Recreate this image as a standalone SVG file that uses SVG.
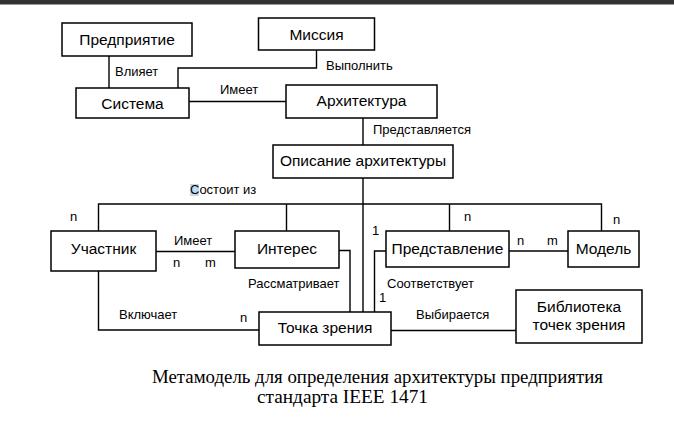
<svg xmlns="http://www.w3.org/2000/svg" width="674" height="443" viewBox="0 0 674 443">
<style>
.box{fill:#fff;stroke:#000;stroke-width:1.5}
.ln{fill:none;stroke:#000;stroke-width:1.4}
.t{font-family:"Liberation Sans",Arial,sans-serif;font-size:15.5px;fill:#000;text-anchor:middle}
.l{font-family:"Liberation Sans",Arial,sans-serif;font-size:13px;fill:#000}
.cap{font-family:"Liberation Serif","Times New Roman",serif;font-size:18px;fill:#000}
</style>
<rect x="0" y="0" width="674" height="443" fill="#fff"/>
<rect x="0" y="0" width="674" height="4.5" fill="#333"/>
<g id="connectors">
<path class="ln" d="M109,56 V88"/>
<path class="ln" d="M316.5,50 V68 H178 V88"/>
<path class="ln" d="M189,101.5 H286"/>
<path class="ln" d="M363,118 V145"/>
<path class="ln" d="M363,178 V312"/>
<path class="ln" d="M98.5,231 V204 H601.5 V231"/>
<path class="ln" d="M286.5,204 V231"/>
<path class="ln" d="M449.5,204 V231"/>
<path class="ln" d="M156,251.5 H235"/>
<path class="ln" d="M339,250.5 H350 V312"/>
<path class="ln" d="M386,251 H374.5 V312"/>
<path class="ln" d="M509,251 H568"/>
<path class="ln" d="M98.5,271 V330 H259"/>
<path class="ln" d="M391,330.5 H516"/>
</g>
<g id="n-predpriyatie"><rect class="box" x="62" y="23" width="130" height="33"/><text class="t" x="127" y="45">Предприятие</text></g>
<g id="n-missiya"><rect class="box" x="258.5" y="18" width="116" height="32"/><text class="t" x="316.5" y="40">Миссия</text></g>
<g id="n-sistema"><rect class="box" x="76" y="88" width="113" height="30"/><text class="t" x="132.5" y="109">Система</text></g>
<g id="n-arkhitektura"><rect class="box" x="286" y="85" width="151" height="33"/><text class="t" x="361.5" y="106">Архитектура</text></g>
<g id="n-opisanie"><rect class="box" x="273" y="145" width="180" height="33"/><text class="t" x="363" y="166">Описание архитектуры</text></g>
<g id="n-uchastnik"><rect class="box" x="51" y="231" width="105" height="40"/><text class="t" x="103.5" y="254">Участник</text></g>
<g id="n-interes"><rect class="box" x="235" y="231" width="104" height="37"/><text class="t" x="287" y="254">Интерес</text></g>
<g id="n-predstavlenie"><rect class="box" x="386" y="231" width="123" height="36"/><text class="t" x="447.5" y="254">Представление</text></g>
<g id="n-model"><rect class="box" x="568" y="231" width="71" height="36"/><text class="t" x="603.5" y="254">Модель</text></g>
<g id="n-tochka"><rect class="box" x="259" y="312" width="132" height="33"/><text class="t" x="325" y="333">Точка зрения</text></g>
<g id="n-biblioteka"><rect class="box" x="516" y="290" width="126" height="53"/><text class="t" x="579" y="312">Библиотека</text><text class="t" x="579" y="330">точек зрения</text></g>
<g id="labels">
<text class="l" x="115" y="76">Влияет</text>
<text class="l" x="326" y="70">Выполнить</text>
<text class="l" x="220" y="94">Имеет</text>
<text class="l" x="373" y="134">Представляется</text>
<rect x="190" y="184" width="9" height="12" fill="#c5d9ee"/>
<text class="l" x="190" y="194">Состоит из</text>
<text class="l" x="70" y="221">n</text>
<text class="l" x="174" y="245">Имеет</text>
<text class="l" x="173" y="267">n</text>
<text class="l" x="205" y="267">m</text>
<text class="l" x="248" y="288">Рассматривает</text>
<text class="l" x="119" y="319">Включает</text>
<text class="l" x="240" y="322">n</text>
<text class="l" x="464" y="221">n</text>
<text class="l" x="613" y="224">n</text>
<text class="l" x="372" y="235">1</text>
<text class="l" x="517" y="245">n</text>
<text class="l" x="547" y="245">m</text>
<text class="l" x="387" y="288">Соответствует</text>
<text class="l" x="379" y="302">1</text>
<text class="l" x="416" y="319">Выбирается</text>
</g>
<g id="caption">
<text class="cap" x="152" y="383" textLength="451" lengthAdjust="spacingAndGlyphs">Метамодель для определения архитектуры предприятия</text>
<text class="cap" x="257" y="403" textLength="171" lengthAdjust="spacingAndGlyphs">стандарта IEEE 1471</text>
</g>
</svg>
